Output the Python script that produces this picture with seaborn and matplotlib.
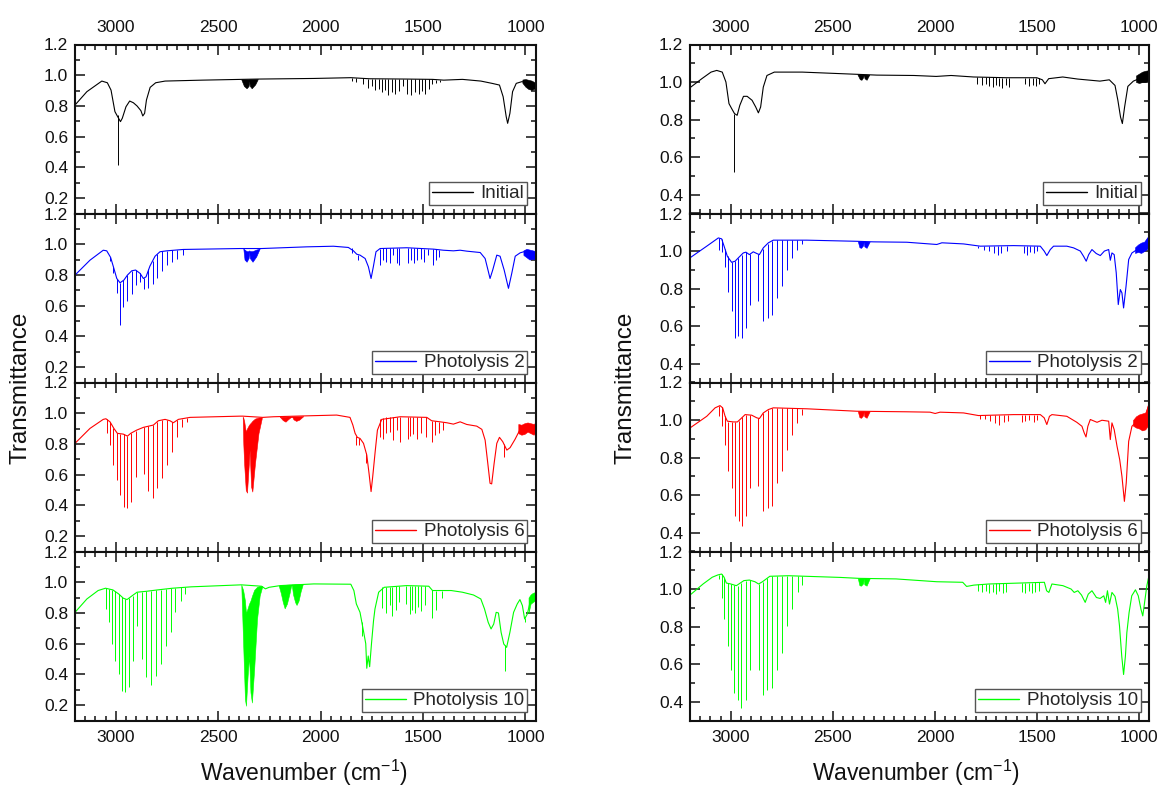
import numpy as np
import matplotlib
matplotlib.use("Agg")
import matplotlib.pyplot as plt
from matplotlib.lines import Line2D
from matplotlib.ticker import FixedLocator, MultipleLocator, FormatStrFormatter
import seaborn as sns

sns.set_style("ticks")
plt.rcParams['font.family'] = ['Liberation Sans', 'DejaVu Sans']
plt.rcParams['mathtext.default'] = 'regular'

# ---------------- data ----------------
labels = ["Initial", "Photolysis 2", "Photolysis 6", "Photolysis 10"]
colors = ["#000000", "#0000FF", "#FF0000", "#00FF00"]
x_ticks = [3000, 2500, 2000, 1500, 1000]
y_ticks_left = [0.2, 0.4, 0.6, 0.8, 1.0, 1.2]
y_ticks_right = [0.4, 0.6, 0.8, 1.0, 1.2]

# ---- left column ----
A1_wn = [3200, 3142, 3069, 3042, 3024, 3005, 2996, 2978, 2969, 2951, 2933, 2915, 2897, 2878, 2869, 2860, 2851, 2833, 2806, 2760,
         2579, 2388, 2307, 2034, 1853, 1762, 1581, 1454, 1399, 1308, 1218, 1163, 1127, 1109, 1094, 1087, 1076, 1063, 1045, 1018, 1000, 950]
A1_t = [0.806, 0.893, 0.962, 0.951, 0.903, 0.763, 0.741, 0.698, 0.72, 0.795, 0.832, 0.821, 0.80, 0.769, 0.735, 0.752, 0.839, 0.921, 0.951, 0.962,
        0.968, 0.973, 0.975, 0.979, 0.984, 0.977, 0.975, 0.973, 0.968, 0.973, 0.962, 0.947, 0.936, 0.86, 0.73, 0.687, 0.752, 0.893, 0.947, 0.958, 0.955, 0.93]
A1_lw = [2991, 1845, 1827, 1795, 1770, 1750, 1733, 1717, 1700, 1684, 1670, 1653, 1636, 1620, 1600, 1577, 1560, 1541, 1522, 1507, 1490, 1473, 1457, 1436, 1418]
A1_lt = [0.74, 0.98, 0.98, 0.98, 0.978, 0.978, 0.977, 0.977, 0.977, 0.976, 0.976, 0.976, 0.976, 0.976, 0.975, 0.975, 0.975, 0.975, 0.974, 0.974, 0.974, 0.973, 0.973, 0.972, 0.97]
A1_lb = [0.416, 0.965, 0.955, 0.94, 0.92, 0.93, 0.905, 0.91, 0.89, 0.905, 0.87, 0.89, 0.88, 0.90, 0.93, 0.88, 0.87, 0.89, 0.875, 0.90, 0.88, 0.91, 0.94, 0.95, 0.955]
A1_co2_wn = [2388, 2375, 2362, 2352, 2349, 2346, 2337, 2320, 2307]
A1_co2_hi = [0.973, 0.973, 0.973, 0.973, 0.974, 0.974, 0.974, 0.975, 0.975]
A1_co2_lo = [0.973, 0.93, 0.915, 0.93, 0.96, 0.93, 0.915, 0.94, 0.975]
A1_nz_wn = [1015, 1000, 985, 970, 950]
A1_nz_hi = [0.972, 0.975, 0.97, 0.965, 0.95]
A1_nz_lo = [0.95, 0.925, 0.91, 0.905, 0.915]

A2_wn = [3200, 3127, 3062, 3045, 3026, 3010, 2996, 2980, 2961, 2944, 2923, 2904, 2882, 2866, 2853, 2834, 2809, 2785, 2752, 2671,
         2394, 2288, 2068, 1938, 1865, 1840, 1824, 1808, 1783, 1767, 1754, 1743, 1730, 1710, 1580, 1449, 1401, 1352, 1319, 1287,
         1221, 1197, 1181, 1173, 1160, 1140, 1124, 1104, 1083, 1067, 1050, 1026, 993, 950]
A2_t = [0.799, 0.896, 0.961, 0.957, 0.914, 0.842, 0.777, 0.749, 0.767, 0.799, 0.827, 0.832, 0.81, 0.777, 0.788, 0.858, 0.922, 0.951, 0.957, 0.966,
        0.972, 0.972, 0.983, 0.987, 0.979, 0.957, 0.935, 0.929, 0.907, 0.853, 0.777, 0.853, 0.951, 0.972, 0.977, 0.968, 0.961, 0.957, 0.961, 0.955,
        0.946, 0.907, 0.821, 0.777, 0.832, 0.929, 0.922, 0.832, 0.713, 0.81, 0.922, 0.944, 0.957, 0.929]
A2_lw = [3029, 3013, 2993, 2980, 2964, 2944, 2923, 2902, 2882, 2863, 2842, 2821, 2798, 2773, 2749, 2725, 2700, 2674,
         1848, 1816, 1710, 1694, 1681, 1664, 1648, 1629, 1616, 1572, 1559, 1544, 1528, 1511, 1495, 1474, 1454, 1436, 1420]
A2_lt = [0.92, 0.85, 0.775, 0.749, 0.765, 0.80, 0.827, 0.832, 0.81, 0.78, 0.84, 0.89, 0.935, 0.953, 0.957, 0.96, 0.963, 0.966,
         0.975, 0.932, 0.972, 0.975, 0.975, 0.975, 0.976, 0.976, 0.976, 0.976, 0.975, 0.975, 0.974, 0.973, 0.972, 0.97, 0.968, 0.966, 0.963]
A2_lb = [0.892, 0.81, 0.68, 0.474, 0.593, 0.632, 0.676, 0.734, 0.756, 0.706, 0.712, 0.741, 0.777, 0.827, 0.864, 0.886, 0.905, 0.929,
         0.944, 0.896, 0.864, 0.896, 0.886, 0.875, 0.929, 0.879, 0.864, 0.875, 0.896, 0.879, 0.90, 0.907, 0.886, 0.929, 0.864, 0.896, 0.914]
A2_co2_wn = [2378, 2372, 2362, 2352, 2349, 2346, 2333, 2315, 2298]
A2_co2_hi = [0.972, 0.965, 0.955, 0.955, 0.96, 0.955, 0.955, 0.965, 0.972]
A2_co2_lo = [0.972, 0.90, 0.886, 0.91, 0.95, 0.91, 0.886, 0.92, 0.972]
A2_nz_wn = [1010, 995, 980, 965, 950]
A2_nz_hi = [0.96, 0.97, 0.965, 0.96, 0.955]
A2_nz_lo = [0.93, 0.915, 0.90, 0.905, 0.90]

A3_wn = [3200, 3127, 3062, 3049, 3029, 3010, 2993, 2964, 2944, 2928, 2899, 2866, 2817, 2793, 2760, 2736, 2720, 2695, 2638, 2394,
         2381, 2283, 2231, 2068, 1922, 1857, 1843, 1832, 1821, 1808, 1791, 1775, 1764, 1754, 1746, 1734, 1723, 1702, 1612, 1482,
         1458, 1417, 1384, 1352, 1319, 1287, 1238, 1213, 1197, 1184, 1173, 1165, 1153, 1140, 1127, 1111, 1091, 1075, 1051, 1026,
         1010, 985, 950]
A3_t = [0.804, 0.901, 0.96, 0.964, 0.944, 0.901, 0.869, 0.864, 0.851, 0.869, 0.89, 0.908, 0.923, 0.951, 0.96, 0.951, 0.938, 0.96, 0.973, 0.981,
        0.981, 0.973, 0.977, 0.983, 0.988, 0.973, 0.923, 0.869, 0.843, 0.836, 0.804, 0.728, 0.609, 0.49, 0.587, 0.75, 0.89, 0.96, 0.977, 0.973,
        0.951, 0.944, 0.938, 0.929, 0.944, 0.927, 0.916, 0.895, 0.825, 0.674, 0.544, 0.54, 0.674, 0.804, 0.843, 0.815, 0.76, 0.776, 0.83, 0.895,
        0.869, 0.912, 0.89]
A3_lw = [3045, 3029, 3013, 2996, 2980, 2961, 2944, 2925, 2904, 2863, 2843, 2821, 2798, 2773, 2749, 2725, 2703, 2679, 2654,
         1827, 1811, 1778, 1710, 1694, 1681, 1664, 1645, 1629, 1612, 1576, 1563, 1547, 1531, 1511, 1485, 1458, 1441, 1420, 1401, 1104]
A3_lt = [0.963, 0.944, 0.905, 0.872, 0.866, 0.864, 0.851, 0.87, 0.887, 0.908, 0.915, 0.923, 0.945, 0.958, 0.958, 0.945, 0.955, 0.965, 0.97,
         0.85, 0.838, 0.74, 0.965, 0.97, 0.975, 0.977, 0.977, 0.977, 0.977, 0.976, 0.976, 0.975, 0.975, 0.974, 0.973, 0.951, 0.948, 0.944, 0.94, 0.80]
A3_lb = [0.869, 0.793, 0.663, 0.566, 0.468, 0.392, 0.382, 0.425, 0.587, 0.605, 0.496, 0.447, 0.511, 0.576, 0.663, 0.75, 0.847, 0.912, 0.944,
         0.793, 0.793, 0.674, 0.847, 0.83, 0.869, 0.879, 0.825, 0.89, 0.815, 0.83, 0.851, 0.864, 0.83, 0.869, 0.847, 0.815, 0.858, 0.869, 0.89, 0.717]
A3_co2_wn = [2381, 2378, 2374, 2366, 2360, 2352, 2347, 2340, 2334, 2321, 2304, 2288]
A3_co2_hi = [0.977, 0.97, 0.95, 0.88, 0.90, 0.92, 0.93, 0.94, 0.95, 0.965, 0.972, 0.973]
A3_co2_lo = [0.977, 0.80, 0.674, 0.50, 0.483, 0.652, 0.76, 0.522, 0.49, 0.674, 0.869, 0.966]
A3_co_wn = [2200, 2185, 2172, 2160, 2146, 2140, 2133, 2120, 2105, 2085]
A3_co_hi = [0.977, 0.978, 0.978, 0.979, 0.979, 0.979, 0.98, 0.98, 0.98, 0.981]
A3_co_lo = [0.977, 0.955, 0.945, 0.96, 0.975, 0.979, 0.96, 0.95, 0.958, 0.981]
A3_nz_wn = [1035, 1020, 1005, 990, 975, 960, 950]
A3_nz_hi = [0.93, 0.925, 0.935, 0.94, 0.935, 0.93, 0.94]
A3_nz_lo = [0.87, 0.86, 0.865, 0.88, 0.87, 0.86, 0.88]

A4_wn = [3200, 3142, 3087, 3051, 3015, 2987, 2964, 2946, 2924, 2897, 2851, 2797, 2724, 2633, 2388, 2289, 2270, 2252, 2198, 2034,
         1853, 1838, 1826, 1808, 1790, 1780, 1775, 1768, 1761, 1752, 1742, 1735, 1717, 1690, 1581, 1472, 1454, 1417, 1363, 1308,
         1254, 1218, 1200, 1182, 1168, 1155, 1143, 1132, 1119, 1106, 1092, 1076, 1058, 1040, 1027, 1015, 1004, 991, 974, 950]
A4_t = [0.804, 0.891, 0.946, 0.961, 0.95, 0.924, 0.896, 0.887, 0.909, 0.935, 0.941, 0.95, 0.961, 0.97, 0.983, 0.974, 0.957, 0.967, 0.978, 0.989,
        0.987, 0.946, 0.859, 0.804, 0.674, 0.60, 0.44, 0.52, 0.45, 0.60, 0.75, 0.826, 0.935, 0.967, 0.978, 0.974, 0.946, 0.946, 0.946, 0.935,
        0.917, 0.891, 0.826, 0.739, 0.696, 0.728, 0.804, 0.80, 0.674, 0.598, 0.576, 0.674, 0.804, 0.859, 0.887, 0.848, 0.761, 0.793, 0.891, 0.902]
A4_lw = [3051, 3033, 3020, 3004, 2987, 2969, 2955, 2936, 2918, 2897, 2873, 2851, 2828, 2806, 2779, 2757, 2733, 2710, 2684, 2661,
         1799, 1699, 1680, 1662, 1650, 1632, 1617, 1581, 1566, 1553, 1541, 1526, 1508, 1490, 1457, 1436, 1408, 1098, 1004]
A4_lt = [0.961, 0.958, 0.952, 0.94, 0.924, 0.905, 0.89, 0.895, 0.912, 0.935, 0.939, 0.941, 0.945, 0.948, 0.952, 0.957, 0.96, 0.963, 0.966, 0.968,
         0.74, 0.967, 0.969, 0.971, 0.972, 0.974, 0.975, 0.978, 0.977, 0.977, 0.976, 0.976, 0.975, 0.975, 0.95, 0.946, 0.946, 0.59, 0.77]
A4_lb = [0.826, 0.739, 0.598, 0.489, 0.402, 0.293, 0.283, 0.315, 0.489, 0.717, 0.50, 0.38, 0.33, 0.391, 0.467, 0.583, 0.674, 0.809, 0.88, 0.924,
         0.652, 0.83, 0.80, 0.85, 0.78, 0.82, 0.87, 0.86, 0.79, 0.82, 0.80, 0.84, 0.81, 0.85, 0.77, 0.82, 0.90, 0.424, 0.74]
A4_co2_wn = [2388, 2379, 2370, 2365, 2357, 2350, 2343, 2336, 2325, 2311, 2298, 2285]
A4_co2_hi = [0.983, 0.95, 0.88, 0.80, 0.83, 0.86, 0.88, 0.91, 0.95, 0.97, 0.975, 0.975]
A4_co2_lo = [0.983, 0.609, 0.239, 0.196, 0.39, 0.52, 0.283, 0.217, 0.435, 0.761, 0.913, 0.975]
A4_co_wn = [2205, 2195, 2185, 2176, 2165, 2152, 2145, 2141, 2135, 2125, 2118, 2108, 2098, 2088]
A4_co_hi = [0.978, 0.98, 0.982, 0.983, 0.984, 0.985, 0.985, 0.986, 0.986, 0.987, 0.987, 0.988, 0.988, 0.989]
A4_co_lo = [0.978, 0.93, 0.87, 0.83, 0.86, 0.93, 0.975, 0.98, 0.92, 0.87, 0.852, 0.88, 0.94, 0.985]
A4_nz_wn = [985, 975, 965, 955, 950]
A4_nz_hi = [0.90, 0.92, 0.93, 0.935, 0.93]
A4_nz_lo = [0.80, 0.86, 0.87, 0.88, 0.87]

# ---- right column ----
B1_wn = [3200, 3142, 3097, 3069, 3042, 3024, 3009, 2996, 2982, 2969, 2956, 2938, 2920, 2896, 2878, 2865, 2854, 2841, 2823, 2787,
         2650, 2377, 2285, 2103, 1994, 1921, 1811, 1647, 1501, 1474, 1461, 1443, 1374, 1301, 1192, 1146, 1118, 1104, 1091, 1082,
         1071, 1055, 1028, 1000, 950]
B1_t = [0.97, 1.018, 1.053, 1.062, 1.053, 1.0, 0.885, 0.859, 0.832, 0.823, 0.876, 0.924, 0.924, 0.903, 0.867, 0.836, 0.867, 0.973, 1.035, 1.053,
        1.053, 1.041, 1.037, 1.035, 1.03, 1.035, 1.027, 1.023, 1.023, 1.012, 0.991, 1.018, 1.027, 1.016, 1.005, 1.012, 0.982, 0.903, 0.814, 0.779,
        0.867, 0.977, 1.005, 1.018, 1.035]
B1_lw = [2985, 1795, 1770, 1748, 1733, 1717, 1700, 1684, 1670, 1652, 1636, 1560, 1541, 1522, 1507, 1490]
B1_lt = [0.83, 1.027, 1.026, 1.026, 1.025, 1.025, 1.025, 1.024, 1.024, 1.024, 1.023, 1.023, 1.023, 1.023, 1.023, 1.02]
B1_lb = [0.523, 0.99, 0.985, 0.99, 0.98, 0.975, 0.985, 0.978, 0.97, 0.985, 0.975, 0.99, 0.98, 0.985, 0.978, 0.99]
B1_co2_wn = [2380, 2368, 2360, 2352, 2349, 2345, 2335, 2322]
B1_co2_hi = [1.041, 1.04, 1.04, 1.04, 1.04, 1.04, 1.04, 1.039]
B1_co2_lo = [1.041, 1.015, 1.012, 1.025, 1.04, 1.02, 1.012, 1.039]
B1_nz_wn = [1015, 1000, 985, 970, 960, 950]
B1_nz_hi = [1.035, 1.045, 1.055, 1.06, 1.062, 1.06]
B1_nz_lo = [1.0, 0.995, 1.0, 1.0, 1.005, 1.01]

B2_wn = [3200, 3118, 3061, 3045, 3033, 3017, 2996, 2979, 2963, 2939, 2926, 2909, 2890, 2873, 2860, 2841, 2816, 2792, 2628, 2383,
         2301, 2138, 1991, 1966, 1860, 1778, 1615, 1484, 1465, 1452, 1435, 1419, 1354, 1321, 1288, 1272, 1259, 1247, 1231, 1210,
         1190, 1170, 1149, 1141, 1133, 1122, 1112, 1102, 1092, 1084, 1076, 1064, 1051, 1035, 1010, 977, 950]
B2_t = [0.964, 1.026, 1.07, 1.065, 1.026, 0.972, 0.94, 0.946, 0.964, 0.99, 0.994, 0.981, 0.996, 0.987, 0.981, 1.017, 1.044, 1.058, 1.058, 1.052,
        1.049, 1.047, 1.035, 1.044, 1.038, 1.026, 1.029, 1.026, 1.0, 0.976, 1.008, 1.026, 1.026, 1.017, 1.0, 0.972, 0.946, 0.981, 1.008, 0.987,
        0.976, 1.0, 1.008, 0.951, 0.99, 0.981, 0.884, 0.715, 0.795, 0.777, 0.697, 0.812, 0.955, 0.99, 1.008, 1.026, 1.079]
B2_lw = [3056, 3045, 3028, 3012, 2996, 2979, 2963, 2947, 2926, 2906, 2865, 2844, 2819, 2796, 2775, 2751, 2726, 2702, 2677, 2653,
         1787, 1762, 1737, 1713, 1693, 1677, 1648, 1566, 1550, 1533, 1517, 1501]
B2_lt = [1.068, 1.065, 1.01, 0.975, 0.94, 0.946, 0.964, 0.98, 0.994, 0.983, 0.982, 1.012, 1.04, 1.055, 1.058, 1.058, 1.058, 1.058, 1.058, 1.058,
         1.027, 1.027, 1.027, 1.028, 1.028, 1.028, 1.028, 1.028, 1.027, 1.027, 1.027, 1.026]
B2_lb = [1.008, 0.994, 0.916, 0.78, 0.679, 0.537, 0.546, 0.537, 0.59, 0.715, 0.732, 0.629, 0.644, 0.661, 0.75, 0.812, 0.901, 0.964, 1.008, 1.035,
         1.017, 1.008, 1.0, 0.99, 0.981, 0.99, 1.0, 0.99, 0.981, 0.994, 0.987, 1.0]
B2_co2_wn = [2378, 2370, 2362, 2352, 2349, 2346, 2335, 2320]
B2_co2_hi = [1.052, 1.052, 1.052, 1.052, 1.052, 1.051, 1.051, 1.05]
B2_co2_lo = [1.052, 1.02, 1.017, 1.03, 1.05, 1.025, 1.017, 1.05]
B2_nz_wn = [1020, 1005, 990, 975, 962, 950]
B2_nz_hi = [1.02, 1.035, 1.045, 1.05, 1.07, 1.085]
B2_nz_lo = [0.99, 0.995, 0.99, 1.0, 1.01, 1.03]

B3_wn = [3200, 3118, 3077, 3053, 3040, 3028, 3017, 2988, 2968, 2952, 2930, 2898, 2873, 2860, 2841, 2816, 2792, 2628, 2383, 2138,
         2024, 1999, 1975, 1860, 1787, 1615, 1484, 1465, 1452, 1439, 1427, 1354, 1305, 1280, 1269, 1260, 1251, 1239, 1206, 1182,
         1149, 1141, 1133, 1122, 1108, 1095, 1084, 1072, 1063, 1051, 1035, 1010, 977, 950]
B3_t = [0.958, 1.02, 1.065, 1.077, 1.065, 1.02, 0.994, 0.99, 0.99, 1.006, 1.029, 1.026, 1.012, 1.008, 1.038, 1.056, 1.065, 1.06, 1.047, 1.044,
        1.042, 1.035, 1.042, 1.038, 1.024, 1.029, 1.029, 1.012, 0.976, 1.02, 1.029, 1.02, 0.988, 0.967, 0.932, 0.91, 0.967, 1.003, 0.988, 0.999,
        0.994, 0.896, 0.985, 0.949, 0.86, 0.789, 0.70, 0.567, 0.665, 0.887, 0.967, 0.994, 0.985, 1.092]
B3_lw = [3058, 3045, 3028, 3012, 2996, 2979, 2961, 2945, 2926, 2906, 2865, 2841, 2819, 2796, 2772, 2749, 2726, 2702, 2677, 2653,
         1778, 1754, 1729, 1705, 1688, 1664, 1644, 1574, 1558, 1541, 1517, 1501]
B3_lt = [1.075, 1.068, 1.02, 0.99, 0.99, 0.99, 0.995, 1.015, 1.029, 1.026, 1.01, 1.038, 1.054, 1.063, 1.065, 1.065, 1.065, 1.063, 1.062, 1.06,
         1.028, 1.028, 1.028, 1.029, 1.029, 1.029, 1.029, 1.029, 1.029, 1.029, 1.029, 1.029]
B3_lb = [1.02, 0.967, 0.869, 0.727, 0.638, 0.487, 0.46, 0.434, 0.487, 0.638, 0.647, 0.514, 0.532, 0.54, 0.665, 0.727, 0.843, 0.923, 0.985, 1.029,
         1.003, 1.006, 0.994, 0.985, 0.976, 0.988, 0.994, 0.988, 0.994, 0.999, 0.988, 0.999]
B3_co2_wn = [2378, 2370, 2362, 2352, 2349, 2346, 2335, 2320]
B3_co2_hi = [1.047, 1.047, 1.047, 1.047, 1.047, 1.046, 1.046, 1.046]
B3_co2_lo = [1.047, 1.015, 1.012, 1.025, 1.045, 1.02, 1.012, 1.046]
B3_nz_wn = [1030, 1015, 1000, 985, 970, 960, 950]
B3_nz_hi = [1.0, 1.02, 1.03, 1.035, 1.04, 1.07, 1.11]
B3_nz_lo = [0.97, 0.96, 0.955, 0.945, 0.95, 0.965, 0.99]

B4_wn = [3200, 3136, 3091, 3064, 3045, 3033, 3022, 3000, 2973, 2936, 2909, 2882, 2864, 2845, 2809, 2718, 2464, 2373, 2191, 1991,
         1864, 1845, 1809, 1736, 1464, 1453, 1442, 1427, 1373, 1333, 1318, 1300, 1282, 1264, 1249, 1231, 1209, 1191, 1173, 1164,
         1155, 1145, 1133, 1118, 1105, 1096, 1085, 1076, 1067, 1060, 1049, 1036, 1018, 1004, 991, 982, 973, 962, 950]
B4_t = [0.968, 1.027, 1.063, 1.075, 1.08, 1.063, 1.032, 1.027, 1.018, 1.045, 1.048, 1.039, 1.027, 1.039, 1.068, 1.071, 1.062, 1.057, 1.054, 1.039,
        1.036, 1.014, 1.021, 1.027, 1.036, 0.991, 0.982, 1.027, 1.018, 1.0, 0.982, 0.991, 0.968, 0.929, 0.973, 0.991, 0.955, 0.95, 0.964, 0.929,
        0.991, 0.92, 0.982, 0.961, 0.893, 0.804, 0.643, 0.545, 0.643, 0.768, 0.875, 0.964, 0.996, 0.964, 0.893, 0.857, 0.929, 1.018, 1.08]
B4_lw = [3060, 3045, 3031, 3015, 3000, 2984, 2967, 2951, 2927, 2905, 2862, 2842, 2822, 2800, 2776, 2751, 2725, 2700, 2673, 2649,
         1790, 1770, 1752, 1733, 1716, 1700, 1684, 1668, 1650, 1575, 1558, 1541, 1525, 1508, 1490]
B4_lt = [1.075, 1.078, 1.06, 1.03, 1.027, 1.022, 1.018, 1.03, 1.045, 1.047, 1.027, 1.04, 1.06, 1.068, 1.07, 1.07, 1.07, 1.069, 1.068, 1.067,
         1.025, 1.026, 1.027, 1.028, 1.029, 1.03, 1.03, 1.031, 1.031, 1.033, 1.033, 1.034, 1.034, 1.035, 1.035]
B4_lb = [1.054, 0.955, 0.839, 0.696, 0.571, 0.446, 0.411, 0.366, 0.411, 0.571, 0.571, 0.438, 0.464, 0.473, 0.571, 0.661, 0.804, 0.893, 0.982, 1.021,
         0.99, 0.985, 0.99, 0.978, 0.985, 0.975, 0.99, 0.98, 0.985, 0.985, 0.978, 0.99, 0.98, 0.985, 0.99]
B4_co2_wn = [2378, 2370, 2362, 2352, 2349, 2346, 2335, 2320]
B4_co2_hi = [1.057, 1.057, 1.057, 1.057, 1.057, 1.057, 1.056, 1.056]
B4_co2_lo = [1.057, 1.02, 1.018, 1.03, 1.055, 1.025, 1.018, 1.056]

left_panels = [
    (A1_wn, A1_t, A1_lw, A1_lt, A1_lb, [(A1_co2_wn, A1_co2_hi, A1_co2_lo), (A1_nz_wn, A1_nz_hi, A1_nz_lo)]),
    (A2_wn, A2_t, A2_lw, A2_lt, A2_lb, [(A2_co2_wn, A2_co2_hi, A2_co2_lo), (A2_nz_wn, A2_nz_hi, A2_nz_lo)]),
    (A3_wn, A3_t, A3_lw, A3_lt, A3_lb, [(A3_co2_wn, A3_co2_hi, A3_co2_lo), (A3_co_wn, A3_co_hi, A3_co_lo), (A3_nz_wn, A3_nz_hi, A3_nz_lo)]),
    (A4_wn, A4_t, A4_lw, A4_lt, A4_lb, [(A4_co2_wn, A4_co2_hi, A4_co2_lo), (A4_co_wn, A4_co_hi, A4_co_lo), (A4_nz_wn, A4_nz_hi, A4_nz_lo)]),
]
right_panels = [
    (B1_wn, B1_t, B1_lw, B1_lt, B1_lb, [(B1_co2_wn, B1_co2_hi, B1_co2_lo), (B1_nz_wn, B1_nz_hi, B1_nz_lo)]),
    (B2_wn, B2_t, B2_lw, B2_lt, B2_lb, [(B2_co2_wn, B2_co2_hi, B2_co2_lo), (B2_nz_wn, B2_nz_hi, B2_nz_lo)]),
    (B3_wn, B3_t, B3_lw, B3_lt, B3_lb, [(B3_co2_wn, B3_co2_hi, B3_co2_lo), (B3_nz_wn, B3_nz_hi, B3_nz_lo)]),
    (B4_wn, B4_t, B4_lw, B4_lt, B4_lb, [(B4_co2_wn, B4_co2_hi, B4_co2_lo)]),
]

# ---------------- figure ----------------
W, H = 1163, 789
fig = plt.figure(figsize=(W / 100, H / 100), dpi=100)

top_px = 44.5
panel_h = 169.0
columns = [
    dict(x0=75, x1=535.7, panels=left_panels, ylim=(0.1, 1.2), yticks=y_ticks_left, ylab_x=21, xlab_x=304),
    dict(x0=690, x1=1149.3, panels=right_panels, ylim=(0.3, 1.2), yticks=y_ticks_right, ylab_x=625, xlab_x=916),
]

for col in columns:
    for k, (wn, t, lw_, lt_, lb_, bands) in enumerate(col["panels"]):
        y_top = top_px + panel_h * k
        ax = fig.add_axes([col["x0"] / W, 1 - (y_top + panel_h) / H,
                           (col["x1"] - col["x0"]) / W, panel_h / H])
        c = colors[k]
        sns.lineplot(x=wn, y=t, ax=ax, color=c, lw=0.8, estimator=None,
                     sort=False, legend=False)
        ax.vlines(lw_, lb_, lt_, colors=c, lw=0.7)
        for bw, bhi, blo in bands:
            ax.fill_between(bw, blo, bhi, color=c, lw=0.4, edgecolor=c)

        ax.set_xlim(3200, 950)
        ax.set_ylim(*col["ylim"])
        ax.xaxis.set_major_locator(FixedLocator(x_ticks))
        ax.xaxis.set_minor_locator(MultipleLocator(50))
        ax.yaxis.set_major_locator(FixedLocator(col["yticks"]))
        ax.yaxis.set_minor_locator(MultipleLocator(0.1))
        ax.yaxis.set_major_formatter(FormatStrFormatter('%.1f'))
        ax.set_xlabel("")
        ax.set_ylabel("")
        ax.tick_params(which='both', direction='in', top=True, bottom=True,
                       left=True, right=True, width=1.1, color='#111111')
        ax.tick_params(which='major', length=7)
        ax.tick_params(which='minor', length=3.5)
        ax.tick_params(axis='y', labelsize=12.5, pad=5, labelcolor='#111111')
        ax.tick_params(axis='x', labelsize=12.5, pad=7, labelcolor='#111111',
                       labeltop=(k == 0), labelbottom=(k == 3))
        for s in ax.spines.values():
            s.set_linewidth(1.5)
            s.set_color('#111111')
            s.set_visible(True)

        leg = ax.legend(handles=[Line2D([0], [0], color=c, lw=1.0)], labels=[labels[k]],
                        loc='lower right', frameon=True, fancybox=False, framealpha=1,
                        edgecolor='#555555', fontsize=13.5, handlelength=2.2,
                        handletextpad=0.4, borderpad=0.15, borderaxespad=0.45)
        leg.get_frame().set_linewidth(1.0)

    fig.text(col["ylab_x"] / W, 1 - 388 / H, "Transmittance", rotation=90,
             ha='center', va='center', fontsize=17.5, color='#111111')
    fig.text(col["xlab_x"] / W, 1 - 773 / H, "Wavenumber (cm$^{-1}$)",
             ha='center', va='center', fontsize=16.5, color='#111111')

fig.savefig("out.png", dpi=100, facecolor='white')
